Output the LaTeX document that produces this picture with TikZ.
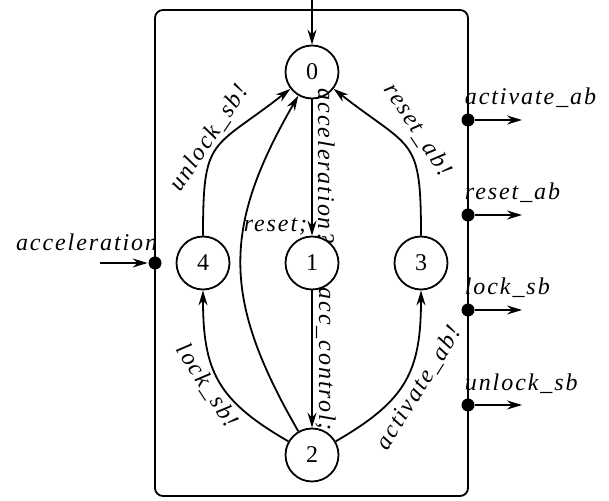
\documentclass[tikz,border=0pt]{standalone}
\usepackage{fontspec}
\setmainfont{Liberation Serif}[LetterSpace=8]
\usetikzlibrary{arrows.meta}

\begin{document}
\begin{tikzpicture}[x=1pt, y=1pt, line width=1.8pt,
             >={Stealth[length=15pt,width=9pt,inset=5pt]},
             state/.style = {draw, circle, minimum size=53pt, inner sep=0pt, font=\fontsize{24}{28}\selectfont},
             lbl/.style = {inner sep=0pt, font=\fontsize{24}{28}\selectfont\itshape},
             port/.style = {circle, fill, inner sep=0pt, minimum size=13pt},
]
\useasboundingbox (0,0) rectangle (609,500);
\draw[rounded corners=8pt] (155,4) rectangle (468,490);
\node [state] (s0) at (312,428) {0};
\node [state] (s1) at (312,237) {1};
\node [state] (s4) at (203,237) {4};
\node [state] (s3) at (421,237) {3};
\node [state] (s2) at (312,45)  {2};
\coordinate (init) at (312,500);
% input and output ports
\node [port] (pin) at (155,237) {};
\coordinate (qin) at (100,237);
\node [port] (p1) at (468,380) {};
\node [port] (p2) at (468,285) {};
\node [port] (p3) at (468,190) {};
\node [port] (p4) at (468,95)  {};
\coordinate (q1) at (522,380);
\coordinate (q2) at (522,285);
\coordinate (q3) at (522,190);
\coordinate (q4) at (522,95);
% labels
\node [lbl, rotate=-90, anchor=base west] (g01) at (318,412) {acceleration?};
\node [lbl, anchor=base east]             (a01) at (308,268) {reset;};
\node [lbl, rotate=-90, anchor=base west] (a12) at (319,213) {acc\_control;};
\node [lbl, rotate=56]  (l40) at (209,362) {unlock\_sb!};
\node [lbl, rotate=-57] (l24) at (207,114) {lock\_sb!};
\node [lbl, rotate=-57] (l30) at (418,370) {reset\_ab!};
\node [lbl, rotate=58]  (l23) at (419,112) {activate\_ab!};
\node [lbl, anchor=base east] (tin) at (158,249) {acceleration};
\node [lbl, anchor=base west] (t1) at (464,395) {activate\_ab};
\node [lbl, anchor=base west] (t2) at (464,300) {reset\_ab};
\node [lbl, anchor=base west] (t3) at (464,205) {lock\_sb};
\node [lbl, anchor=base west] (t4) at (464,110) {unlock\_sb};
%% paths
\path[->] (init) edge (s0)
          (s0)   edge (s1)
          (s1)   edge (s2)
          (s4)   edge[out=90, in=218, looseness=1.5] (s0)
          (s2)   edge[out=120, in=240, looseness=1.17] (s0)
          (s3)   edge[out=90, in=-38, looseness=1.5] (s0)
          (s2)   edge[out=150, in=-90, looseness=1.2] (s4)
          (s2)   edge[out=30, in=-90, looseness=1.2] (s3)
          (qin)  edge (pin)
          (p1)   edge (q1)
          (p2)   edge (q2)
          (p3)   edge (q3)
          (p4)   edge (q4)
          ;
\end{tikzpicture}
\end{document}
